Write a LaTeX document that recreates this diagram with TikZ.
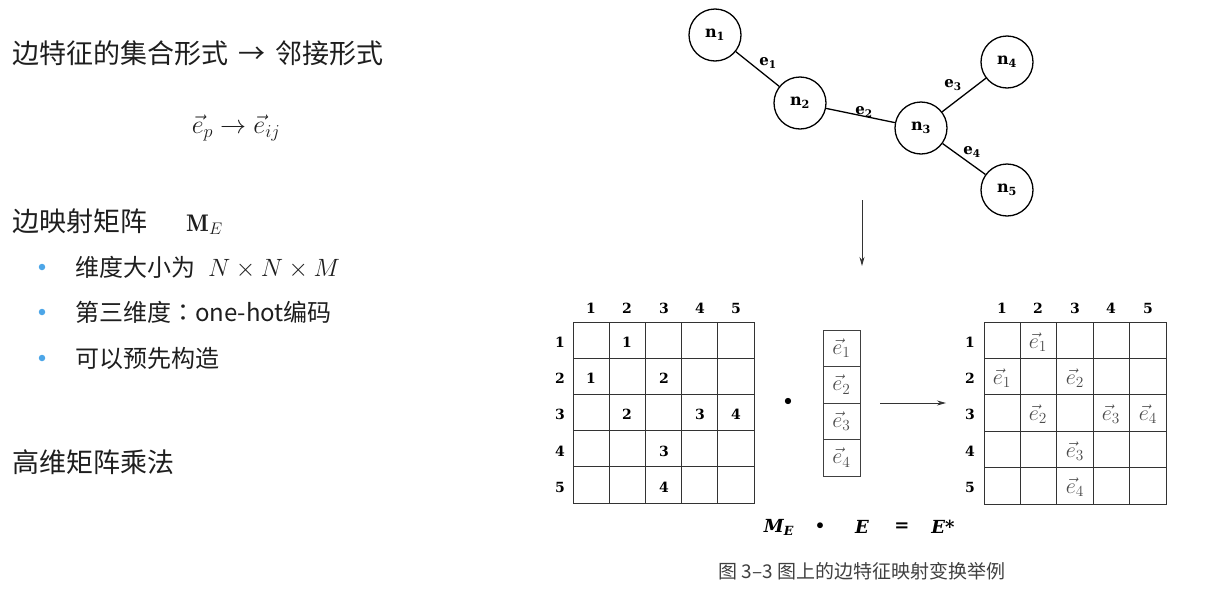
\documentclass[tikz,border=0pt]{standalone}
\usepackage{fix-cm}
\usepackage{amsmath}
\usepackage{fontspec}
\usepackage{xcolor}
\newfontfamily\cjk{Noto Sans CJK SC}
\newfontfamily\cjktc{Noto Sans CJK TC}
\newfontfamily\slab{DejaVu Serif}
\newcommand{\fsz}[1]{\fontsize{#1}{#1}\selectfont}
\definecolor{bulletblue}{HTML}{4DA6E8}
\definecolor{inkgray}{HTML}{1E1E1E}
\usetikzlibrary{arrows.meta}

\begin{document}
\begin{tikzpicture}[x=1pt,y=-1pt,
    graph node/.style={draw,circle,line width=1.3pt,minimum size=52pt,inner sep=0pt,font=\slab\bfseries\fsz{16}},
    edge label/.style={font=\slab\bfseries\fsz{15}},
    head/.style={font=\slab\bfseries\fsz{14}},
    entry/.style={font=\slab\bfseries\fsz{14}},
    vec entry/.style={text=black!70,font=\fsz{22}},
    vec cell/.style={draw=black!75,line width=0.9pt,minimum width=37pt,minimum height=36.5pt,inner sep=0pt,text=black!70,font=\fsz{22}},
    cell line/.style={draw=black!80,line width=1pt},
    plain text/.style={anchor=base west,inner sep=0pt,text=inkgray,font=\cjk\fsz{27}},
    bullet text/.style={anchor=base west,inner sep=0pt,text=inkgray,font=\cjk\fsz{24}},
    bullet/.style={circle,fill=bulletblue,minimum size=6.5pt,inner sep=0pt},
    eq part/.style={font=\slab\bfseries\fsz{18}}]
  \useasboundingbox (0,0) rectangle (1218,592);
  % left column
  \node[plain text] (title) at (12,63) {边特征的集合形式\hspace{4pt} → \hspace{4pt}邻接形式};
  \node[font=\fsz{26},text=inkgray] (mapping) at (236,128) {$\vec{e}_p \rightarrow \vec{e}_{ij}$};
  \node[plain text] (mesec) at (12,231) {边映射矩阵};
  \node[anchor=base west,inner sep=0pt,text=inkgray,font=\fsz{24}] (mesym) at (186,231) {$\mathbf{M}_E$};
  \node[bullet] (b1) at (42,267) {};
  \node[bullet text] (dimtext) at (75,276) {维度大小为};
  \node[anchor=base west,inner sep=0pt,text=inkgray,font=\fsz{25}] (dimsym) at (208,276) {$N \times N \times M$};
  \node[bullet] (b2) at (42,312) {};
  \node[bullet text] (onehot) at (75,321) {第三维度{\cjktc ：}one-hot编码};
  \node[bullet] (b3) at (42,358) {};
  \node[bullet text] (prebuild) at (75,367) {可以预先构造};
  \node[plain text] (highdim) at (12,472) {高维矩阵乘法};

  % graph
  \node[graph node] (n1) at (715,35) {n\textsubscript{1}};
  \node[graph node] (n2) at (800,103) {n\textsubscript{2}};
  \node[graph node] (n3) at (921,128) {n\textsubscript{3}};
  \node[graph node] (n4) at (1007,62) {n\textsubscript{4}};
  \node[graph node] (n5) at (1007,190) {n\textsubscript{5}};
  \draw[line width=1.3pt] (n1) -- (n2);
  \draw[line width=1.3pt] (n2) -- (n3);
  \draw[line width=1.3pt] (n3) -- (n4);
  \draw[line width=1.3pt] (n3) -- (n5);
  \node[edge label] (e1) at (768,63) {e\textsubscript{1}};
  \node[edge label] (e2) at (864,112) {e\textsubscript{2}};
  \node[edge label] (e3) at (953,85) {e\textsubscript{3}};
  \node[edge label] (e4) at (972,152) {e\textsubscript{4}};
  \coordinate (downtop) at (862,200);
  \coordinate (downbot) at (862,266);
  \draw[-{Stealth[length=9pt,width=5pt]},line width=0.9pt,black!80] (downtop) -- (downbot);

  % left matrix M_E
  \draw[cell line] (573,322) rectangle (754,503)
    (609.2,322) -- (609.2,503) (645.4,322) -- (645.4,503)
    (681.6,322) -- (681.6,503) (717.8,322) -- (717.8,503)
    (573,358.2) -- (754,358.2) (573,394.4) -- (754,394.4)
    (573,430.6) -- (754,430.6) (573,466.8) -- (754,466.8);
  \node[head] (lc1) at (591,308) {1};
  \node[head] (lc2) at (627,308) {2};
  \node[head] (lc3) at (664,308) {3};
  \node[head] (lc4) at (700,308) {4};
  \node[head] (lc5) at (736,308) {5};
  \node[head] (lr1) at (560,342) {1};
  \node[head] (lr2) at (560,378) {2};
  \node[head] (lr3) at (560,414) {3};
  \node[head] (lr4) at (560,451) {4};
  \node[head] (lr5) at (560,487) {5};
  \node[entry] (m12) at (627,342) {1};
  \node[entry] (m21) at (591,378) {1};
  \node[entry] (m23) at (664,378) {2};
  \node[entry] (m32) at (627,414) {2};
  \node[entry] (m34) at (700,414) {3};
  \node[entry] (m35) at (736,414) {4};
  \node[entry] (m43) at (664,451) {3};
  \node[entry] (m53) at (664,487) {4};

  % vector E
  \node[font=\fsz{16}] (timesdot) at (788,402) {$\bullet$};
  \node[vec cell] (v1) at (841.5,348.25) {$\vec{e}_1$};
  \node[vec cell] (v2) at (841.5,384.75) {$\vec{e}_2$};
  \node[vec cell] (v3) at (841.5,421.25) {$\vec{e}_3$};
  \node[vec cell] (v4) at (841.5,457.75) {$\vec{e}_4$};
  \coordinate (resfrom) at (880,403);
  \coordinate (resto) at (946,403);
  \draw[-{Stealth[length=9pt,width=5pt]},line width=0.9pt,black!80] (resfrom) -- (resto);

  % right matrix E*
  \draw[cell line] (984,322) rectangle (1166,504)
    (1020.4,322) -- (1020.4,504) (1056.8,322) -- (1056.8,504)
    (1093.2,322) -- (1093.2,504) (1129.6,322) -- (1129.6,504)
    (984,358.4) -- (1166,358.4) (984,394.8) -- (1166,394.8)
    (984,431.2) -- (1166,431.2) (984,467.6) -- (1166,467.6);
  \node[head] (rc1) at (1002,308) {1};
  \node[head] (rc2) at (1038,308) {2};
  \node[head] (rc3) at (1075,308) {3};
  \node[head] (rc4) at (1111,308) {4};
  \node[head] (rc5) at (1148,308) {5};
  \node[head] (rr1) at (970,342) {1};
  \node[head] (rr2) at (970,378) {2};
  \node[head] (rr3) at (970,414) {3};
  \node[head] (rr4) at (970,451) {4};
  \node[head] (rr5) at (970,487) {5};
  \node[vec entry] (s12) at (1038,342) {$\vec{e}_1$};
  \node[vec entry] (s21) at (1002,378) {$\vec{e}_1$};
  \node[vec entry] (s23) at (1075,378) {$\vec{e}_2$};
  \node[vec entry] (s32) at (1038,414) {$\vec{e}_2$};
  \node[vec entry] (s34) at (1111,414) {$\vec{e}_3$};
  \node[vec entry] (s35) at (1148,414) {$\vec{e}_4$};
  \node[vec entry] (s43) at (1075,451) {$\vec{e}_3$};
  \node[vec entry] (s53) at (1075,487) {$\vec{e}_4$};

  % equation and caption
  \node[eq part] (eqm) at (779,527) {\itshape M\textsubscript{E}};
  \node[font=\fsz{15}] (eqdot) at (820,526) {$\bullet$};
  \node[eq part] (eqe) at (862,527) {\itshape E};
  \node[eq part] (eqeq) at (902,527) {=};
  \node[eq part] (eqstar) at (943,527) {\itshape E*};
  \node[font=\cjk\fsz{19},text=black!75] (caption) at (862,571) {图 3–3 图上的边特征映射变换举例};
\end{tikzpicture}
\end{document}
